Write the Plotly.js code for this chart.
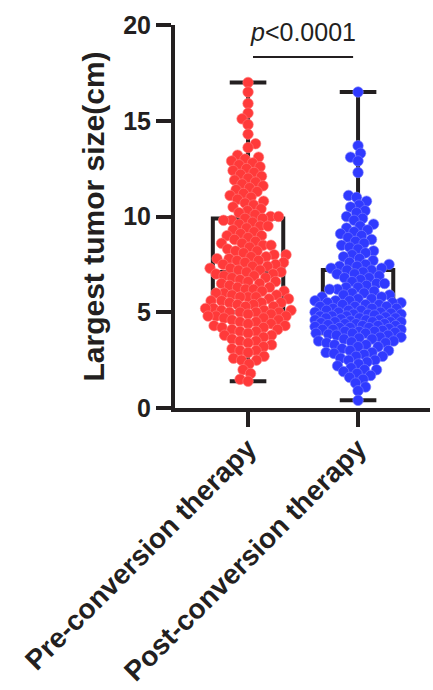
<!DOCTYPE html>
<html>
<head>
<meta charset="utf-8">
<script src="https://cdn.plot.ly/plotly-3.0.1.min.js"></script>
<style>
html,body{margin:0;padding:0;background:#fff;}
#chart{width:433px;height:690px;}
</style>
</head>
<body>
<div id="chart"></div>
<script>
// ---- data ----
const categories = ["Pre-conversion therapy", "Post-conversion therapy"];

const preValues = [
  17.0,16.5,15.9,15.4,15.1,14.8,14.3,13.8,13.6,13.2,13.1,13.0,12.9,12.8,12.7,12.6,12.5,12.4,12.3,12.2,12.1,12.0,
  11.9,11.8,11.7,11.6,11.5,11.4,11.3,11.2,11.1,11.0,10.9,10.8,10.7,10.6,10.5,10.4,10.3,10.2,10.1,10.0,10.0,9.9,
  9.9,9.8,9.8,9.7,9.6,9.5,9.5,9.4,9.3,9.2,9.1,9.0,9.0,8.9,8.8,8.7,8.6,8.6,8.5,8.5,8.4,8.3,8.2,8.2,8.1,8.0,8.0,
  7.9,7.9,7.8,7.8,7.7,7.7,7.6,7.6,7.5,7.5,7.4,7.4,7.3,7.3,7.2,7.2,7.1,7.1,
  7.0,7.0,6.9,6.9,6.8,6.8,6.7,6.6,6.6,6.5,6.5,6.4,6.3,6.3,6.2,6.2,6.1,6.1,6.0,6.0,5.9,5.9,5.8,5.8,5.8,5.7,5.7,
  5.6,5.6,5.5,5.5,5.5,5.4,5.4,5.3,5.3,5.2,5.2,5.1,5.1,5.1,5.0,5.0,5.0,5.0,
  4.9,4.9,4.8,4.8,4.8,4.7,4.7,4.6,4.6,4.5,4.5,4.4,4.4,4.3,4.3,4.2,4.2,4.1,4.1,4.0,4.0,3.9,3.8,3.8,3.7,3.6,
  3.5,3.5,3.4,3.3,3.2,3.1,3.0,3.0,2.9,2.7,2.6,2.5,2.5,2.3,2.0,1.8,1.5,1.4
];

const postValues = [
  16.5,13.7,13.3,13.1,12.9,12.3,11.1,11.0,10.8,10.6,10.5,10.3,10.2,10.0,9.9,9.8,9.6,9.5,9.4,9.3,9.2,9.1,9.0,
  8.9,8.8,8.7,8.6,8.5,8.4,8.3,8.2,8.1,8.0,7.9,7.8,7.7,7.6,7.5,7.5,7.4,7.4,7.3,7.3,7.2,7.2,
  7.1,7.0,7.0,6.9,6.8,6.8,6.7,6.6,6.5,6.5,6.4,6.3,6.3,6.2,6.2,6.1,6.0,6.0,5.9,5.9,5.8,5.8,5.7,5.7,5.6,5.6,5.6,
  5.5,5.5,5.5,5.4,5.4,5.4,5.3,5.3,5.3,5.2,5.2,5.2,5.1,5.1,5.1,5.0,5.0,5.0,
  4.95,4.9,4.9,4.9,4.85,4.8,4.8,4.8,4.75,4.7,4.7,4.7,4.65,4.6,4.6,4.6,4.55,4.5,4.5,4.5,4.5,4.45,4.4,4.4,4.4,
  4.35,4.3,4.3,4.3,4.25,4.2,4.2,4.2,4.15,4.1,4.1,4.1,4.05,4.0,4.0,4.0,3.95,3.9,3.9,3.9,
  3.85,3.8,3.8,3.7,3.7,3.65,3.6,3.6,3.5,3.5,3.45,3.4,3.4,3.3,3.3,3.2,3.2,3.1,3.0,3.0,2.9,2.9,2.85,2.8,2.7,2.7,
  2.6,2.5,2.5,2.4,2.3,2.2,2.1,2.0,2.0,1.9,1.8,1.7,1.6,1.5,1.3,1.1,0.9,0.4
];

// box summary
const boxQ1 = [5.0, 3.9];
const boxMedian = [7.1, 5.0];
const boxQ3 = [9.9, 7.2];
const boxLower = [1.4, 0.4];
const boxUpper = [17.0, 16.5];

const yTicks = [0, 5, 10, 15, 20];
const pText = "<i>p</i>&lt;0.0001";

// ---- layout geometry ----
const W = 433, H = 690;
const M = {l: 175, r: 3, t: 25, b: 282};
const xRange = [-0.664, 1.654];
const yRange = [0, 20];
const pxPerX = (W - M.l - M.r) / (xRange[1] - xRange[0]);
const pxPerY = (H - M.t - M.b) / (yRange[1] - yRange[0]);

// deterministic beeswarm spread (pixel space -> data units)
function swarm(vals, center, minDist, maxOff) {
  const order = vals.map((v, i) => i).sort((a, b) => vals[a] - vals[b]);
  const placed = [];
  const xs = new Array(vals.length);
  order.forEach((i, n) => {
    const ypx = vals[i] * pxPerY;
    const near = placed.filter(p => Math.abs(p.y - ypx) < minDist);
    let best = 0, bestScore = -1, done = false;
    for (let k = 0; k <= maxOff && !done; k += 0.5) {
      const cands = k === 0 ? [0] : (n % 2 ? [-k, k] : [k, -k]);
      for (const s of cands) {
        let md = Infinity;
        for (const p of near) md = Math.min(md, Math.hypot(p.x - s, p.y - ypx));
        if (md >= minDist) { best = s; done = true; break; }
        if (md > bestScore) { bestScore = md; best = s; }
      }
    }
    placed.push({x: best, y: ypx});
    xs[i] = center + best / pxPerX;
  });
  return xs;
}

// ---- chart ----
const ink = "#231f20";
const FONT = "Arial, 'Liberation Sans', sans-serif";

const boxTrace = {
  type: "box",
  x: [0, 1],
  q1: boxQ1, median: boxMedian, q3: boxQ3,
  lowerfence: boxLower, upperfence: boxUpper,
  width: 0.64,
  whiskerwidth: 0.52,
  fillcolor: "rgba(0,0,0,0)",
  line: {color: ink, width: 4},
  boxpoints: false,
  showlegend: false,
  hoverinfo: "skip"
};

function pointsTrace(idx, vals, color, edge) {
  return {
    type: "scatter",
    mode: "markers",
    x: swarm(vals, idx, 8, 43),
    y: vals,
    marker: {color: color, size: 10.5, line: {width: 0.6, color: edge}},
    showlegend: false,
    hoverinfo: "skip"
  };
}

const data = [
  boxTrace,
  pointsTrace(0, preValues, "rgb(255,58,58)", "rgb(255,120,120)"),
  pointsTrace(1, postValues, "rgb(48,58,255)", "rgb(120,125,255)")
];

const layout = {
  width: W, height: H,
  margin: M,
  paper_bgcolor: "#fff", plot_bgcolor: "#fff",
  boxmode: "overlay",
  showlegend: false,
  font: {family: FONT, color: ink},
  xaxis: {
    type: "linear",
    range: xRange,
    tickvals: [0, 1],
    ticktext: categories,
    showline: true, linecolor: ink, linewidth: 4,
    ticks: "outside", ticklen: 15, tickwidth: 4, tickcolor: ink,
    tickangle: -45,
    ticklabelstandoff: -6,
    tickfont: {family: FONT, size: 28, weight: "bold", color: ink},
    showgrid: false, zeroline: false, fixedrange: true
  },
  yaxis: {
    range: yRange,
    tickvals: yTicks,
    ticktext: yTicks.map(String),
    showline: true, linecolor: ink, linewidth: 4,
    ticks: "outside", ticklen: 15, tickwidth: 4, tickcolor: ink,
    tickfont: {family: FONT, size: 25, weight: "bold", color: ink},
    showgrid: false, zeroline: false, fixedrange: true,
    title: {text: "Largest tumor size(cm)", font: {family: FONT, size: 30, weight: "bold", color: ink}, standoff: 11}
  },
  shapes: [{
    type: "line", xref: "x", yref: "y",
    x0: 0.045, x1: 0.955, y0: 18.33, y1: 18.33,
    line: {color: ink, width: 2}
  }],
  annotations: [{
    text: pText, xref: "x", yref: "y", x: 0.5, y: 18.33,
    xanchor: "center", yanchor: "bottom", yshift: 9, showarrow: false,
    font: {family: FONT, size: 25, color: ink}
  }]
};

Plotly.newPlot("chart", data, layout, {displayModeBar: false, staticPlot: true});
</script>
</body>
</html>
